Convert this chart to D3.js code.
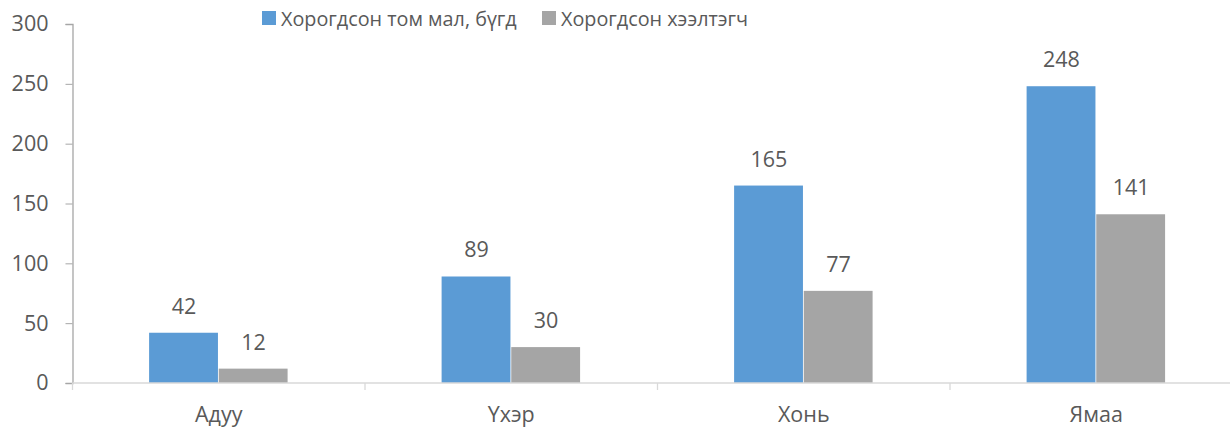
<!DOCTYPE html>
<html>
<head>
<meta charset="utf-8">
<script src="https://cdn.jsdelivr.net/npm/d3@7"></script>
<style>
  body { margin: 0; background: #fff; }
  text { font-family: "Open Sans", "Noto Sans", sans-serif; fill: #595959; }
</style>
</head>
<body>
<div id="chart"></div>
<script>
const categories = ["Адуу", "Үхэр", "Хонь", "Ямаа"];
const seriesNames = ["Хорогдсон том мал, бүгд", "Хорогдсон хээлтэгч"];
const totalDead = [42, 89, 165, 248];
const femaleDead = [12, 30, 77, 141];
const yTicks = [0, 50, 100, 150, 200, 250, 300];
const colors = ["#5B9BD5", "#A5A5A5"];

const width = 1230, height = 429;
const margin = {top: 24, right: -12.5, bottom: 46, left: 72.5};

const svg = d3.select("#chart").append("svg")
  .attr("width", width)
  .attr("height", height);

const x = d3.scaleBand()
  .domain(categories)
  .range([margin.left, width - margin.right]);

const xs = d3.scaleBand()
  .domain([0, 1])
  .range([0, x.bandwidth()])
  .paddingOuter(1.1)
  .paddingInner(0);

const y = d3.scaleLinear()
  .domain([0, 300])
  .range([height - margin.bottom, margin.top]);

const data = categories.map((c, i) => ({cat: c, values: [totalDead[i], femaleDead[i]]}));

// bars
const groups = svg.append("g").selectAll("g")
  .data(data)
  .enter().append("g")
  .attr("transform", d => "translate(" + x(d.cat) + ",0)");

groups.selectAll("rect")
  .data(d => d.values)
  .enter().append("rect")
  .attr("x", (d, i) => xs(i))
  .attr("y", d => y(d))
  .attr("width", xs.bandwidth() - 0.8)
  .attr("height", d => y(0) - y(d))
  .attr("fill", (d, i) => colors[i]);

groups.selectAll("text")
  .data(d => d.values)
  .enter().append("text")
  .attr("x", (d, i) => xs(i) + xs.bandwidth() / 2)
  .attr("y", d => y(d) - 19)
  .attr("text-anchor", "middle")
  .style("font-size", "21.5px")
  .text(d => d);

// y axis
const yAxis = svg.append("g")
  .attr("transform", "translate(" + margin.left + ",0)")
  .call(d3.axisLeft(y).tickValues(yTicks).tickSize(7).tickPadding(17));
yAxis.select(".domain").attr("stroke", "#A6A6A6").attr("stroke-width", 1.3);
yAxis.selectAll(".tick line").attr("stroke", "#A6A6A6");
yAxis.selectAll(".tick text").style("font-size", "21.5px").attr("fill", "#595959")
  .style("font-family", "'Open Sans', sans-serif");

// x axis
const xAxis = svg.append("g")
  .attr("transform", "translate(0," + y(0) + ")");
xAxis.append("line")
  .attr("x1", margin.left).attr("x2", width)
  .attr("stroke", "#D9D9D9").attr("stroke-width", 1.3);
xAxis.selectAll(".sep")
  .data(categories)
  .enter().append("line")
  .attr("x1", d => x(d)).attr("x2", d => x(d))
  .attr("y1", 0).attr("y2", 7)
  .attr("stroke", "#D9D9D9").attr("stroke-width", 1.3);
xAxis.selectAll(".lbl")
  .data(categories)
  .enter().append("text")
  .attr("x", d => x(d) + x.bandwidth() / 2)
  .attr("y", 39)
  .attr("text-anchor", "middle")
  .style("font-size", "21.5px")
  .text(d => d);

// legend
const legendX = [262, 542];
const legend = svg.append("g").selectAll("g")
  .data(seriesNames)
  .enter().append("g")
  .attr("transform", (d, i) => "translate(" + legendX[i] + ",11)");
legend.append("rect")
  .attr("width", 14).attr("height", 14)
  .attr("fill", (d, i) => colors[i]);
legend.append("text")
  .attr("x", 19).attr("y", 14.5)
  .style("font-size", "19.8px")
  .text(d => d);
</script>
</body>
</html>
